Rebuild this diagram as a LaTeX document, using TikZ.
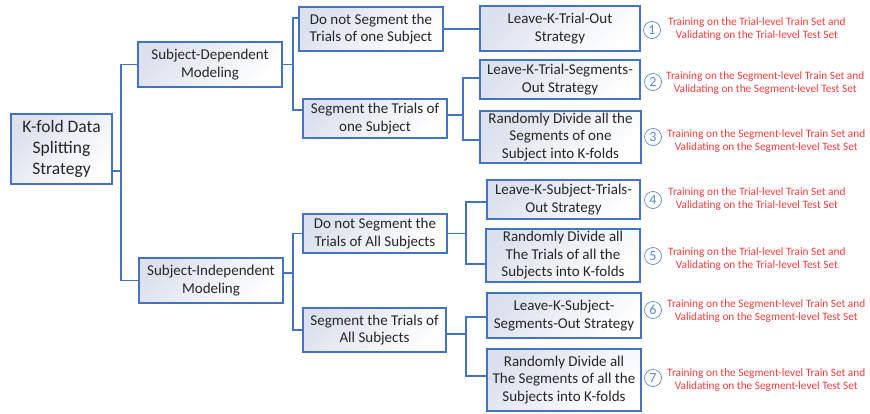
\documentclass[tikz,border=0pt]{standalone}
\usepackage{fontspec}
\setmainfont{Carlito}
\usetikzlibrary{calc}
\definecolor{edgeblue}{HTML}{4472C4}
\definecolor{boxshade}{HTML}{DCE1EE}
\definecolor{txtgray}{HTML}{262626}
\definecolor{notered}{HTML}{F03C3C}
\definecolor{numblue}{HTML}{5A86CF}
\tikzset{
  treebox/.style={draw=edgeblue, line width=1.1pt, left color=boxshade, right color=white, shading angle=45,
    align=center, text=txtgray, font=\fontsize{15}{17.5}\selectfont, inner sep=0pt, anchor=center},
  conn/.style={draw=edgeblue, line width=1.1pt},
  numcirc/.style={circle, draw=numblue, line width=0.7pt, text=numblue, minimum size=17pt, inner sep=0pt,
    font=\fontsize{14}{14}\selectfont},
  note/.style={text=notered, align=center, anchor=west, inner sep=0pt, font=\fontsize{11.3}{13}\selectfont}
}
\begin{document}
\begin{tikzpicture}[x=1pt,y=-1pt]
\useasboundingbox (0,0) rectangle (870,413);
% level 0
\node[treebox, minimum width=101pt, minimum height=70pt, font=\fontsize{17.5}{21}\selectfont] (root) at (61.5,149) {K-fold Data\\Splitting\\Strategy};
% level 1
\node[treebox, minimum width=144pt, minimum height=45pt] (SD) at (210,64.5) {Subject-Dependent\\Modeling};
\node[treebox, minimum width=144pt, minimum height=45pt] (SI) at (211,280.5) {Subject-Independent\\Modeling};
% level 2
\node[treebox, minimum width=144pt, minimum height=44pt] (DNS1) at (371,29) {Do not Segment the\\Trials of one Subject};
\node[treebox, minimum width=144pt, minimum height=39pt] (Seg1) at (375,118.5) {Segment the Trials of\\one Subject};
\node[treebox, minimum width=144pt, minimum height=39pt] (DNS2) at (375,233.5) {Do not Segment the\\Trials of All Subjects};
\node[treebox, minimum width=143pt, minimum height=44pt] (Seg2) at (374.5,330) {Segment the Trials of\\All Subjects};
% level 3
\node[treebox, minimum width=160pt, minimum height=45pt] (LKTO) at (560,28.5) {Leave-K-Trial-Out\\Strategy};
\node[treebox, minimum width=160pt, minimum height=39pt] (LKTSO) at (560,79.5) {Leave-K-Trial-Segments-\\Out Strategy};
\node[treebox, minimum width=161pt, minimum height=52pt] (RD1) at (560.5,137) {Randomly Divide all the\\Segments of one\\Subject into K-folds};
\node[treebox, minimum width=153pt, minimum height=39pt] (LKSTO) at (563.5,199.5) {Leave-K-Subject-Trials-\\Out Strategy};
\node[treebox, minimum width=154pt, minimum height=53pt] (RD2) at (563,255.5) {Randomly Divide all\\The Trials of all the\\Subjects into K-folds};
\node[treebox, minimum width=154pt, minimum height=45pt] (LKSSO) at (564,315.5) {Leave-K-Subject-\\Segments-Out Strategy};
\node[treebox, minimum width=154pt, minimum height=62pt] (RD3) at (564,380) {Randomly Divide all\\The Segments of all the\\Subjects into K-folds};
% connectors
\coordinate (j0) at (121,171);
\draw[conn] (root.east |- j0) -- (j0);
\draw[conn] (SD.west) -| (j0) |- (SI.west);
\coordinate (a1) at (293,18);
\coordinate (a2) at (293,110);
\draw[conn] (SD.east) -- (SD.east -| a1);
\draw[conn] (a1 -| DNS1.west) -- (a1) -- (a2) -- (a2 -| Seg1.west);
\draw[conn] (DNS1.east) -- (DNS1.east -| LKTO.west);
\coordinate (b0) at (463,115);
\coordinate (b1) at (463,78);
\coordinate (b2) at (463,140);
\draw[conn] (b0 -| Seg1.east) -- (b0);
\draw[conn] (b1 -| LKTSO.west) -- (b1) -- (b2) -- (b2 -| RD1.west);
\coordinate (c0) at (293,273);
\draw[conn] (c0 -| SI.east) -- (c0);
\draw[conn] (DNS2.west) -| (c0) |- (Seg2.west);
\coordinate (d1) at (466,202);
\coordinate (d2) at (466,264);
\draw[conn] (DNS2.east) -- (DNS2.east -| d1);
\draw[conn] (d1 -| LKSTO.west) -- (d1) -- (d2) -- (d2 -| RD2.west);
\coordinate (e0) at (466,334);
\coordinate (e1) at (466,317);
\coordinate (e2) at (466,376);
\draw[conn] (e0 -| Seg2.east) -- (e0);
\draw[conn] (e1 -| LKSSO.west) -- (e1) -- (e2) -- (e2 -| RD3.west);
% annotations
\node[numcirc] (n1) at (652,30) {1};
\node[note] (t1) at (668,29.5) {Training on the Trial-level Train Set and\\Validating on the Trial-level Test Set};
\node[numcirc] (n2) at (653,82) {2};
\node[note] (t2) at (666,83) {Training on the Segment-level Train Set and\\Validating on the Segment-level Test Set};
\node[numcirc] (n3) at (653,137) {3};
\node[note] (t3) at (667,141) {Training on the Segment-level Train Set and\\Validating on the Segment-level Test Set};
\node[numcirc] (n4) at (653,200) {4};
\node[note] (t4) at (668,199.5) {Training on the Trial-level Train Set and\\Validating on the Trial-level Test Set};
\node[numcirc] (n5) at (653,256) {5};
\node[note] (t5) at (668,259.5) {Training on the Trial-level Train Set and\\Validating on the Trial-level Test Set};
\node[numcirc] (n6) at (653,310) {6};
\node[note] (t6) at (667,311) {Training on the Segment-level Train Set and\\Validating on the Segment-level Test Set};
\node[numcirc] (n7) at (653,378) {7};
\node[note] (t7) at (667,380) {Training on the Segment-level Train Set and\\Validating on the Segment-level Test Set};
\end{tikzpicture}
\end{document}
